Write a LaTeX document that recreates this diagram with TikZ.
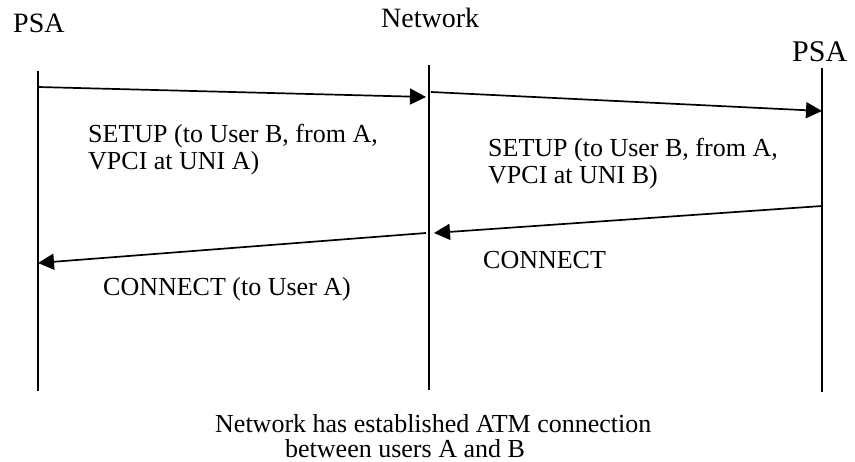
\documentclass[tikz,border=0pt]{standalone}
\usepackage{fontspec}
\setmainfont{Liberation Serif}
\usetikzlibrary{arrows.meta}
\begin{document}
\begin{tikzpicture}[x=1pt,y=-1pt,
  lifeline/.style={line width=1.9pt},
  msg/.style={line width=1.7pt,-{Triangle[length=16pt,width=16pt]}},
  lbl/.style={anchor=base west,inner sep=0pt,font=\fontsize{26}{27}\selectfont},
  head/.style={lbl,font=\fontsize{28}{29}\selectfont}]
  \useasboundingbox (0,0) rectangle (855,462);

  % lifelines
  \coordinate (aTop) at (38,71);   \coordinate (aBot) at (38,391);
  \coordinate (nTop) at (429,65);  \coordinate (nBot) at (429,390);
  \coordinate (bTop) at (822,68);  \coordinate (bBot) at (822,392);
  \draw[lifeline] (aTop) -- (aBot);
  \draw[lifeline] (nTop) -- (nBot);
  \draw[lifeline] (bTop) -- (bBot);

  % headers
  \node[head] (psaA) at (13,33) {PSA};
  \node[head] (net) at (381,28) {Network};
  \node[head,font=\fontsize{30}{31}\selectfont] (psaB) at (792,62) {PSA};

  % message end points
  \coordinate (m1s) at (38,87);   \coordinate (m1e) at (426,97);
  \coordinate (m2s) at (431,92);  \coordinate (m2e) at (822,111);
  \coordinate (m3s) at (822,206); \coordinate (m3e) at (434,233);
  \coordinate (m4s) at (426,233); \coordinate (m4e) at (38,263);

  \draw[msg] (m1s) -- (m1e);
  \draw[msg] (m2s) -- (m2e);
  \draw[msg] (m3s) -- (m3e);
  \draw[msg] (m4s) -- (m4e);

  % message labels
  \node[lbl] (setupA1) at (88,143) {SETUP (to User B, from A,};
  \node[lbl] (setupA2) at (88,170) {VPCI at UNI A)};
  \node[lbl] (setupB1) at (488,157) {SETUP (to User B, from A,};
  \node[lbl] (setupB2) at (488,184) {VPCI at UNI B)};
  \node[lbl] (connB) at (483,269) {CONNECT};
  \node[lbl] (connA) at (103,296) {CONNECT (to User A)};

  % closing note
  \node[lbl] (note1) at (215,433) {Network has established ATM connection};
  \node[lbl] (note2) at (285,458) {between users A and B};
\end{tikzpicture}
\end{document}
